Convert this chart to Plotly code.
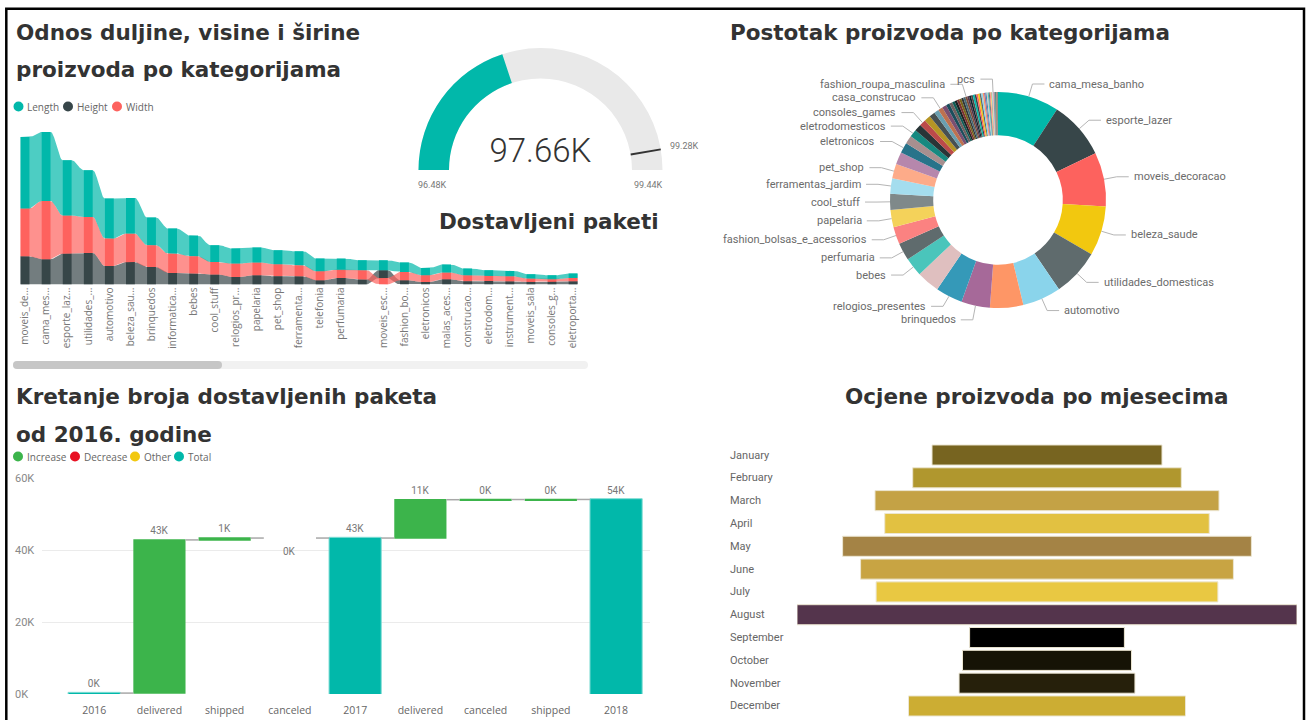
import numpy as np
import plotly.graph_objects as go

FIG_W, FIG_H = 1306, 720


def fx(p):
    return p / FIG_W


def fy(p):
    return 1 - p / FIG_H


# ---------------- product dimensions per category (ribbon chart) ----------------
dim_ticks = ["moveis_de...", "cama_mes...", "esporte_laz...", "utilidades_...", "automotivo",
             "beleza_sau...", "brinquedos", "informatica...", "bebes", "cool_stuff",
             "relogios_pr...", "papelaria", "pet_shop", "ferramenta...", "telefonia",
             "perfumaria", "", "moveis_esc...", "fashion_bo...", "eletronicos",
             "malas_aces...", "construcao...", "eletrodom...", "instrument...", "moveis_sala",
             "consoles_g...", "eletroporta..."]
dim_length = [716, 690, 553, 467, 400, 356, 277, 250, 207, 167, 150, 150, 140, 140, 127,
              110, 100, 100, 94, 73, 80, 67, 57, 53, 43, 40, 44]
dim_height = [283, 253, 310, 316, 186, 226, 176, 116, 110, 100, 76, 93, 83, 83, 43,
              66, 50, 77, 43, 26, 53, 33, 36, 33, 26, 26, 33]
dim_width = [477, 583, 380, 360, 274, 284, 217, 194, 173, 126, 134, 127, 120, 110, 90,
             84, 93, 66, 83, 67, 67, 60, 50, 50, 34, 27, 33]

# ---------------- delivered packages gauge ----------------
gauge_min = 96.48
gauge_max = 99.44
gauge_value = 97.66
gauge_target = 99.28

# ---------------- products per category (donut) ----------------
donut_names = [
    "cama_mesa_banho", "esporte_lazer", "moveis_decoracao", "beleza_saude", "utilidades_domesticas",
    "automotivo", "informatica_acessorios", "brinquedos", "relogios_presentes", "telefonia",
    "bebes", "perfumaria", "fashion_bolsas_e_acessorios", "papelaria", "cool_stuff",
    "ferramentas_jardim", "pet_shop", "(Blank)", "eletronicos", "construcao_ferramentas_construcao",
    "eletrodomesticos", "malas_acessorios", "consoles_games", "moveis_escritorio", "instrumentos_musicais",
    "eletroportateis", "casa_construcao", "livros_interesse_geral", "fashion_calcados", "moveis_sala",
    "climatizacao", "livros_tecnicos", "telefonia_fixa", "casa_conforto", "market_place",
    "alimentos_bebidas", "fashion_roupa_masculina", "moveis_cozinha_area_de_servico_jantar_e_pizzaria",
    "sinalizacao_e_seguranca", "construcao_ferramentas_seguranca", "eletrodomesticos_2",
    "construcao_ferramentas_jardim", "alimentos", "bebidas", "construcao_ferramentas_iluminacao",
    "agro_industria_e_comercio", "industria_comercio_e_negocios", "artigos_de_natal", "audio", "artes",
    "fashion_underwear_e_moda_praia", "dvds_blu_ray", "moveis_quarto", "construcao_ferramentas_ferramentas",
    "portateis_casa_forno_e_cafe", "livros_importados", "pcs", "cine_foto", "musica",
    "fashion_roupa_feminina", "artigos_de_festas", "fashion_esporte", "artes_e_artesanato", "flores",
    "fraldas_higiene", "portateis_cozinha_e_preparadores_de_alimentos", "la_cuisine",
    "moveis_colchao_e_estofado", "tablets_impressao_imagem", "fashion_roupa_infanto_juvenil",
    "casa_conforto_2", "pc_gamer", "seguros_e_servicos", "cds_dvds_musicais"]
donut_counts = [
    3029, 2867, 2657, 2444, 2335, 1900, 1639, 1411, 1329, 1134,
    919, 868, 849, 849, 789, 753, 719, 610, 517, 400,
    370, 349, 317, 309, 289, 231, 225, 216, 173, 156,
    124, 123, 116, 111, 104, 104, 95, 94, 93, 91, 90,
    88, 82, 81, 78, 74, 68, 65, 58, 55,
    53, 48, 45, 39, 31, 31, 30, 28, 27,
    27, 26, 19, 19, 14, 12, 10, 10, 10, 9, 5,
    5, 3, 2, 1]
donut_labeled = ["cama_mesa_banho", "esporte_lazer", "moveis_decoracao", "beleza_saude",
                 "utilidades_domesticas", "automotivo", "brinquedos", "relogios_presentes",
                 "bebes", "perfumaria", "fashion_bolsas_e_acessorios", "papelaria", "cool_stuff",
                 "ferramentas_jardim", "pet_shop", "eletronicos", "eletrodomesticos",
                 "consoles_games", "casa_construcao", "fashion_roupa_masculina", "pcs"]
palette = ["#01B8AA", "#374649", "#FD625E", "#F2C80F", "#5F6B6D", "#8AD4EB", "#FE9666", "#A66999",
           "#3599B8", "#DFBFBF", "#4AC5BB", "#5F6B6D", "#FB8281", "#F4D25A", "#7F898A", "#A4DDEE",
           "#FDAB89", "#B687AC", "#28738A", "#A78F8F", "#168980", "#293537", "#BB4A4A", "#B59525",
           "#475052", "#6A9FB0", "#BD7150", "#7B4F71", "#1B4D5C", "#706060", "#0F5C55", "#1C2325",
           "#7D3231", "#796419", "#303637", "#476A75", "#7E4B36", "#52354C", "#0D262E", "#544848"]

# ---------------- delivered packages since 2016 (waterfall, thousands) ----------------
wf_ticks = ["2016", "delivered", "shipped", "canceled", "2017", "delivered", "canceled", "shipped", "2018"]
wf_measure = ["absolute", "relative", "relative", "relative", "total",
              "relative", "relative", "relative", "total"]
wf_values = [0.25, 42.55, 0.52, 0.0, 0, 10.65, 0.05, 0.02, 0]
wf_label_below = [False, False, False, True, False, False, False, False, False]
wf_yticks = [0, 20, 40, 60]

# ---------------- product ratings per month (funnel) ----------------
months = ["January", "February", "March", "April", "May", "June", "July", "August",
          "September", "October", "November", "December"]
month_ratings = [4991, 5829, 7465, 7042, 8871, 8090, 7417, 10850, 3359, 3667, 3817, 6011]
month_colors = ["#776420", "#B0972E", "#C4A245", "#E2C141", "#A48345", "#C8A443",
                "#E9C842", "#54344C", "#000000", "#161306", "#26200B", "#CCAD33"]

TITLE_FONT = dict(family="DejaVu Sans", size=21.5, color="#333333", weight="bold")
SMALL_FONT = dict(family="Open Sans", size=10, color="#666666")
DATA_FONT = dict(family="Roboto", size=10, color="#777777")

fig = go.Figure()
shapes = []
annotations = []


def hex_rgba(h, a):
    h = h.lstrip("#")
    return "rgba(%d,%d,%d,%.2f)" % (int(h[0:2], 16), int(h[2:4], 16), int(h[4:6], 16), a)


# ================= ribbon chart =================
series = [("Height", dim_height, "#374649"),
          ("Width", dim_width, "#FD625E"),
          ("Length", dim_length, "#01B8AA")]
n_cat = len(dim_ticks)
lower = [np.zeros(n_cat) for _ in series]
upper = [np.zeros(n_cat) for _ in series]
for i in range(n_cat):
    order = sorted(range(len(series)), key=lambda k: (series[k][1][i], k))
    acc = 0.0
    for k in order:
        lower[k][i] = acc
        acc += series[k][1][i]
        upper[k][i] = acc

HW = 0.21  # half bar width in category units


def ribbon_edge(vals):
    xs, ys = [], []
    t = np.linspace(0, 1, 18)[1:-1]
    ease = (1 - np.cos(np.pi * t)) / 2
    for i in range(n_cat):
        xs += [i - HW, i + HW]
        ys += [vals[i], vals[i]]
        if i < n_cat - 1:
            xs += list(i + HW + t * (1 - 2 * HW))
            ys += list(vals[i] + ease * (vals[i + 1] - vals[i]))
    return xs, ys


for k, (name, vals, col) in enumerate(series):
    xt, yt = ribbon_edge(upper[k])
    xb, yb = ribbon_edge(lower[k])
    fig.add_trace(go.Scatter(x=xt + xb[::-1], y=yt + yb[::-1], mode="lines", fill="toself",
                             fillcolor=hex_rgba(col, 0.7), line=dict(width=0),
                             hoverinfo="skip", xaxis="x", yaxis="y"))
for k, (name, vals, col) in enumerate(series):
    fig.add_trace(go.Bar(x=list(range(n_cat)), y=vals, base=lower[k], width=2 * HW,
                         marker=dict(color=col, line=dict(width=0)), name=name,
                         xaxis="x", yaxis="y"))

# ================= gauge =================
fig.add_trace(go.Indicator(
    mode="gauge+number", value=gauge_value,
    number=dict(suffix="K", valueformat=".2f",
                font=dict(family="Roboto", size=33, color="#333333", weight=300)),
    gauge=dict(shape="angular",
               axis=dict(range=[gauge_min, gauge_max], visible=False),
               bar=dict(color="#01B8AA", thickness=1, line=dict(width=0)),
               bgcolor="#E9E9E9", borderwidth=0,
               threshold=dict(line=dict(color="#333333", width=2), thickness=1, value=gauge_target)),
    domain=dict(x=[fx(418.5), fx(662.5)], y=[fy(170), fy(48)])))

# ================= donut =================
fig.add_trace(go.Pie(values=donut_counts, labels=donut_names, sort=False, direction="clockwise",
                     rotation=0, hole=0.6, textinfo="none", hoverinfo="label+value",
                     marker=dict(colors=[palette[i % len(palette)] for i in range(len(donut_names))],
                                 line=dict(width=0)),
                     domain=dict(x=[fx(890), fx(1106)], y=[fy(308), fy(92)])))

# ================= waterfall =================
running, wf_text, wf_level = 0.0, [], []
for m, v in zip(wf_measure, wf_values):
    if m == "absolute":
        running = v
        shown = v
    elif m == "relative":
        running += v
        shown = v
    else:
        shown = running
    wf_text.append("%dK" % int(round(shown)))
    wf_level.append(running)

fig.add_trace(go.Waterfall(
    x=list(range(len(wf_ticks))), y=wf_values, measure=wf_measure,
    text=["" if below else t for t, below in zip(wf_text, wf_label_below)],
    textposition="outside", textfont=DATA_FONT, cliponaxis=False,
    increasing=dict(marker=dict(color="#3CB44B")),
    decreasing=dict(marker=dict(color="#E81123")),
    totals=dict(marker=dict(color="#01B8AA", line=dict(color="#7fdcd4", width=1))),
    connector=dict(mode="between", line=dict(color="#a8a8a8", width=1.5)),
    xaxis="x2", yaxis="y2"))
for i, below in enumerate(wf_label_below):
    if below:
        annotations.append(dict(x=i, y=wf_level[i], xref="x2", yref="y2", text=wf_text[i],
                                showarrow=False, yanchor="top", yshift=-6, font=DATA_FONT))
# left-aligned value axis labels
for v in wf_yticks:
    annotations.append(dict(x=fx(13), y=v, xref="paper", yref="y2", text="%dK" % v,
                            showarrow=False, xanchor="left", yanchor="middle",
                            font=dict(family="Roboto", size=11, color="#888888")))

# ================= funnel =================
fig.add_trace(go.Funnel(
    y=months, x=month_ratings, textinfo="none",
    marker=dict(color=month_colors, line=dict(color="#ece6d2", width=1)),
    connector=dict(visible=False), xaxis="x3", yaxis="y3"))

for m in months:
    annotations.append(dict(x=fx(728), y=m, xref="paper", yref="y3", text=m, showarrow=False,
                            xanchor="left", yanchor="middle",
                            font=dict(family="Roboto", size=11, color="#666666")))

# ================= donut labels with leader lines =================
cx, cy, r_out, r_el = 998, 200, 108, 121
total = float(sum(donut_counts))
cum = np.concatenate([[0], np.cumsum(donut_counts)])
lab = []
for name in donut_labeled:
    k = donut_names.index(name)
    mid = (cum[k] + donut_counts[k] / 2) / total * 2 * np.pi
    s, c = np.sin(mid), np.cos(mid)
    side = 1 if s >= 0 else -1
    lab.append(dict(name=name, side=side, x0=cx + r_out * s, y0=cy - r_out * c,
                    xe=cx + r_el * s, y=cy - r_el * c))
for d in lab:
    end = d["xe"] + d["side"] * 15
    w = len(d["name"]) * 5.7
    d["span"] = (end, end + w) if d["side"] > 0 else (end - w, end)
GAP = 13.5
for _ in range(300):
    moved = False
    for i in range(len(lab)):
        for j in range(i + 1, len(lab)):
            a, b = lab[i], lab[j]
            if a["side"] != b["side"]:
                continue
            if a["span"][1] < b["span"][0] or b["span"][1] < a["span"][0]:
                continue
            dy = b["y"] - a["y"]
            if abs(dy) < GAP:
                push = (GAP - abs(dy)) / 2 + 0.01
                if dy >= 0:
                    a["y"] -= push
                    b["y"] += push
                else:
                    a["y"] += push
                    b["y"] -= push
                moved = True
    if not moved:
        break
for d in lab:
    x2 = d["xe"] + d["side"] * 12
    shapes.append(dict(type="path", xref="paper", yref="paper",
                       path="M %f %f L %f %f L %f %f" % (fx(d["x0"]), fy(d["y0"]), fx(d["xe"]), fy(d["y"]),
                                                          fx(x2), fy(d["y"])),
                       line=dict(color="#b5b5b5", width=1)))
    annotations.append(dict(x=fx(d["xe"] + d["side"] * 15), y=fy(d["y"]), xref="paper", yref="paper",
                            text=d["name"], showarrow=False,
                            xanchor="left" if d["side"] > 0 else "right", yanchor="middle",
                            font=dict(family="Roboto", size=11, color="#6b6b6b")))

# ================= titles =================
titles = [("Odnos duljine, visine i širine", 14, 33),
          ("proizvoda po kategorijama", 14, 69.5),
          ("Dostavljeni paketi", 437, 221),
          ("Postotak proizvoda po kategorijama", 728, 33),
          ("Kretanje broja dostavljenih paketa", 14, 396.5),
          ("od 2016. godine", 14, 434),
          ("Ocjene proizvoda po mjesecima", 843, 396.5)]
for txt, x, y in titles:
    annotations.append(dict(x=fx(x), y=fy(y), xref="paper", yref="paper", text=txt, showarrow=False,
                            xanchor="left", yanchor="middle", font=TITLE_FONT))

# gauge scale labels
for txt, x, y, anchor in [("%.2fK" % gauge_min, 432.5, 185, "center"),
                          ("%.2fK" % gauge_max, 648, 185, "center"),
                          ("%.2fK" % gauge_target, 668, 146, "left")]:
    annotations.append(dict(x=fx(x), y=fy(y), xref="paper", yref="paper", text=txt, showarrow=False,
                            xanchor=anchor, yanchor="middle",
                            font=dict(family="Roboto", size=9, color="#777777")))

# ================= legends =================
legend_items = [
    [("Length", "#01B8AA", 18.5, 25), ("Height", "#374649", 68, 75), ("Width", "#FD625E", 117, 124)],
    [("Increase", "#3CB44B", 18, 25), ("Decrease", "#E81123", 75, 82),
     ("Other", "#F2C80F", 135, 142), ("Total", "#01B8AA", 179, 186)]]
for items, ly in zip(legend_items, [106.5, 456.5]):
    for txt, col, cxl, tx in items:
        shapes.append(dict(type="circle", xref="paper", yref="paper",
                           x0=fx(cxl - 5), x1=fx(cxl + 5), y0=fy(ly + 5), y1=fy(ly - 5),
                           fillcolor=col, line=dict(width=0)))
        annotations.append(dict(x=fx(tx), y=fy(ly), xref="paper", yref="paper", text=txt,
                                showarrow=False, xanchor="left", yanchor="middle", font=SMALL_FONT))

# scrollbar under the ribbon chart
for x0, x1, col in [(13, 588, "#f1f1f1"), (13, 222, "#c6c6c6")]:
    shapes.append(dict(type="rect", xref="paper", yref="paper", x0=fx(x0 + 4), x1=fx(x1 - 4),
                       y0=fy(369), y1=fy(361), fillcolor=col, line=dict(width=0), layer="below"))
    for xc in (x0 + 4, x1 - 4):
        shapes.append(dict(type="circle", xref="paper", yref="paper", x0=fx(xc - 4), x1=fx(xc + 4),
                           y0=fy(369), y1=fy(361), fillcolor=col, line=dict(width=0), layer="below"))

# outer frame
shapes.append(dict(type="rect", xref="paper", yref="paper", x0=fx(6.3), x1=fx(1304), y0=fy(740),
                   y1=fy(8.7), line=dict(color="#000000", width=2.5), fillcolor="rgba(0,0,0,0)"))

fig.update_layout(
    width=FIG_W, height=FIG_H, margin=dict(l=0, r=0, t=0, b=0, autoexpand=False),
    paper_bgcolor="white", plot_bgcolor="white", showlegend=False,
    barmode="overlay", waterfallgap=0.2, funnelgap=0.12,
    font=dict(family="Open Sans", color="#666666"),
    xaxis=dict(domain=[fx(18.7), fx(579.4)], range=[-0.3, 26.3], tickmode="array",
               tickvals=list(range(n_cat)), ticktext=dim_ticks, tickangle=-90,
               tickfont=dict(family="Open Sans", size=10, color="#777777"), automargin=False,
               showgrid=False, zeroline=False, showline=False, ticks="", fixedrange=True),
    yaxis=dict(domain=[fy(284.5), fy(129.5)], range=[0, 1550], visible=False, fixedrange=True,
               automargin=False),
    xaxis2=dict(domain=[fx(42), fx(650)], range=[-0.8, 8.52], tickmode="array",
                tickvals=list(range(len(wf_ticks))), ticktext=wf_ticks,
                tickfont=dict(family="Open Sans", size=10.5, color="#666666"), automargin=False,
                showgrid=False, zeroline=False, showline=False, ticks="", anchor="y2",
                ticklabelstandoff=8),
    yaxis2=dict(domain=[fy(694), fy(478)], range=[0, 60], tickmode="array",
                tickvals=wf_yticks, showticklabels=False, automargin=False,
                gridcolor="#ebebeb", gridwidth=1, zeroline=False, showline=False, anchor="x2"),
    xaxis3=dict(domain=[fx(797), fx(1297)], range=[-max(month_ratings) / 2, max(month_ratings) / 2],
                visible=False, anchor="y3", automargin=False),
    yaxis3=dict(domain=[fy(717.4), fy(443.6)], range=[11.5, -0.5], showticklabels=False,
                showgrid=False, zeroline=False, showline=False, anchor="x3", automargin=False),
    shapes=shapes, annotations=annotations,
)

fig.write_html("out.html")
